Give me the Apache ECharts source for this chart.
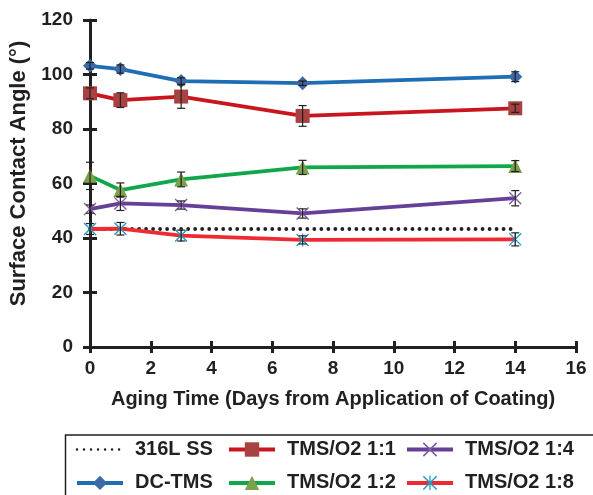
<!DOCTYPE html>
<html>
<head>
<meta charset="utf-8">
<script src="https://cdn.jsdelivr.net/npm/echarts@6/dist/echarts.min.js"></script>
<style>html,body{margin:0;padding:0;background:#fff;}#c{width:593px;height:495px;}</style>
</head>
<body>
<div id="c"></div>
<script>
// ---- data ----
const days = [0, 1, 3, 7, 14];
const ss316Days = [0, 14];
const ss316 = [43.3, 43.3];
const dcTms = [103.2, 102.0, 97.6, 96.8, 99.2];
const dcTmsErr = [1.2, 1.5, 1.2, 0.8, 1.8];
const tms11 = [93.1, 90.6, 91.9, 84.8, 87.6];
const tms11Err = [2.0, 2.7, 4.3, 3.8, 1.5];
const tms12 = [62.8, 57.6, 61.5, 65.9, 66.4];
const tms12Err = [5.0, 2.6, 2.7, 2.6, 2.0];
const tms14 = [50.6, 52.7, 52.1, 49.0, 54.6];
const tms14Err = [1.5, 2.6, 1.5, 1.7, 2.8];
const tms18 = [43.3, 43.4, 40.9, 39.3, 39.5];
const tms18Err = [2.0, 2.3, 2.0, 1.5, 2.4];
const seriesNames = ['316L SS', 'DC-TMS', 'TMS/O2 1:1', 'TMS/O2 1:2', 'TMS/O2 1:4', 'TMS/O2 1:8'];
const xTitle = 'Aging Time (Days from Application of Coating)';
const yTitle = 'Surface Contact Angle (°)';

// ---- helpers ----
const AX = '#231f20';
const FONT = '"Liberation Sans", Arial, sans-serif';
function pts(xs, vals) { return xs.map((d, i) => [d, vals[i]]); }
function errData(vals, errs) { return days.map((d, i) => [d, vals[i] - errs[i], vals[i] + errs[i]]); }
const xPath = 'path://M0,1.5L1.5,0L20,18.5L18.5,20ZM18.5,0L20,1.5L1.5,20L0,18.5Z';
const starPath = 'path://M0,1.5L1.5,0L20,18.5L18.5,20ZM18.5,0L20,1.5L1.5,20L0,18.5ZM9.1,0L10.9,0L10.9,20L9.1,20Z';

function lineSeries(name, vals, lineColor, symbol, symSize, symColor) {
  return {
    name: name, type: 'line', data: pts(days, vals), z: 3,
    symbol: symbol, symbolSize: symSize, showSymbol: true,
    lineStyle: { color: lineColor, width: 3.8 },
    itemStyle: { color: symColor, borderWidth: 0 },
    emphasis: { disabled: true }, animation: false
  };
}
function errSeries(vals, errs) {
  return {
    type: 'custom', data: errData(vals, errs), z: 4,
    encode: { x: 0, y: [1, 2] }, animation: false, silent: true,
    renderItem: function (params, api) {
      const x = api.value(0), lo = api.value(1), hi = api.value(2);
      const a = api.coord([x, lo]), b = api.coord([x, hi]);
      const w = 4;
      const st = { stroke: AX, lineWidth: 1.2 };
      return { type: 'group', children: [
        { type: 'line', shape: { x1: a[0], y1: a[1], x2: b[0], y2: b[1] }, style: st },
        { type: 'line', shape: { x1: a[0] - w, y1: a[1], x2: a[0] + w, y2: a[1] }, style: st },
        { type: 'line', shape: { x1: b[0] - w, y1: b[1], x2: b[0] + w, y2: b[1] }, style: st }
      ]};
    }
  };
}

const legendBase = {
  orient: 'vertical', top: 439.5, height: 200, itemWidth: 46, itemHeight: 18, itemGap: 13.4, padding: 0,
  lineStyle: { width: 4 },
  textStyle: { fontFamily: FONT, fontWeight: 'bold', fontSize: 20, lineHeight: 14, color: AX, padding: [0, 0, 0, 7] },
  selectedMode: false
};

const chart = echarts.init(document.getElementById('c'));
chart.setOption({
  backgroundColor: '#fff',
  animation: false,
  grid: { left: 90, right: 17, top: 20, bottom: 148, containLabel: false },
  xAxis: [{
    type: 'value', min: 0, max: 16, interval: 2,
    name: xTitle, nameLocation: 'middle', nameGap: 42,
    nameTextStyle: { fontFamily: FONT, fontWeight: 'bold', fontSize: 20, color: AX },
    axisLine: { show: true, lineStyle: { color: AX, width: 3 } },
    axisTick: { show: true, inside: false, length: 6, lineStyle: { color: AX, width: 3 } },
    axisLabel: { margin: 12, fontFamily: FONT, fontWeight: 'bold', fontSize: 19, color: AX },
    splitLine: { show: false }
  }, {
    type: 'value', min: 0, max: 16, interval: 2, position: 'bottom',
    axisLine: { show: false },
    axisTick: { show: true, inside: true, length: 6, lineStyle: { color: AX, width: 3 } },
    axisLabel: { show: false }, splitLine: { show: false }
  }],
  yAxis: [{
    type: 'value', min: 0, max: 120, interval: 20,
    name: yTitle, nameLocation: 'middle', nameGap: 58, nameRotate: 90,
    nameTextStyle: { fontFamily: FONT, fontWeight: 'bold', fontSize: 22, color: AX, padding: [0, 0, 0, 20] },
    axisLine: { show: true, lineStyle: { color: AX, width: 3 } },
    axisTick: { show: true, inside: false, length: 7, lineStyle: { color: AX, width: 3 } },
    axisLabel: { margin: 17, fontFamily: FONT, fontWeight: 'bold', fontSize: 19, color: AX },
    splitLine: { show: false }
  }, {
    type: 'value', min: 0, max: 120, interval: 20, position: 'left', offset: 0,
    axisLine: { show: false },
    axisTick: { show: true, inside: true, length: 7, lineStyle: { color: AX, width: 3 } },
    axisLabel: { show: false }, splitLine: { show: false }
  }],
  legend: [
    Object.assign({}, legendBase, { left: 75, data: [{ name: seriesNames[0], itemStyle: { opacity: 0 }, lineStyle: { width: 2.5 } }, seriesNames[1]] }),
    Object.assign({}, legendBase, { left: 227, data: [seriesNames[2], seriesNames[3]] }),
    Object.assign({}, legendBase, { left: 405, data: [seriesNames[4], seriesNames[5]] })
  ],
  graphic: [{
    type: 'rect', left: 63, top: 432.5,
    shape: { x: 0, y: 0, width: 600, height: 100 },
    style: { fill: 'none', stroke: AX, lineWidth: 1.5 }, silent: true
  }],
  series: [
    {
      name: seriesNames[0], type: 'line', data: pts(ss316Days, ss316), z: 2,
      symbol: 'none', showSymbol: false,
      lineStyle: { color: AX, width: 3.8, type: [0.01, 7], cap: 'round' },
      itemStyle: { color: AX }, emphasis: { disabled: true }, animation: false
    },
    lineSeries(seriesNames[1], dcTms, '#1f6db5', 'diamond', 14, '#3b6aa6'),
    lineSeries(seriesNames[2], tms11, '#c9151e', 'rect', 14, '#a84242'),
    lineSeries(seriesNames[3], tms12, '#10a64a', 'triangle', 14, '#7ba14a'),
    lineSeries(seriesNames[4], tms14, '#663f98', xPath, 13, '#7e5aa6'),
    lineSeries(seriesNames[5], tms18, '#ee2b33', starPath, 13, '#1f9dc4'),
    errSeries(dcTms, dcTmsErr),
    errSeries(tms11, tms11Err),
    errSeries(tms12, tms12Err),
    errSeries(tms14, tms14Err),
    errSeries(tms18, tms18Err)
  ]
});
</script>
</body>
</html>
